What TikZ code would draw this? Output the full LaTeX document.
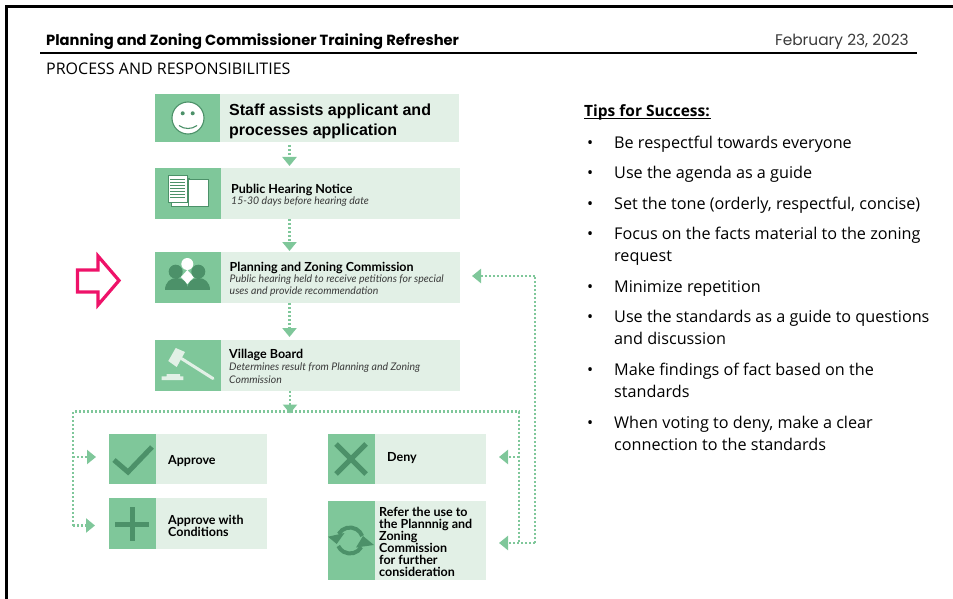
\documentclass[tikz,border=0pt]{standalone}
\usepackage{fontspec}
\setmainfont{Open Sans}
\newfontfamily\headfont{Poppins}
\newfontfamily\flowfont{Lato}
\newfontfamily\stafffont{Liberation Sans}
\usetikzlibrary{arrows.meta}

\definecolor{paleGreen}{HTML}{E2F0E6}
\definecolor{midGreen}{HTML}{7FC79A}
\definecolor{darkGreen}{HTML}{4C9169}
\definecolor{inkGrey}{HTML}{3A3A3A}
\definecolor{hotPink}{HTML}{EE1269}

\tikzset{
    panel/.style={fill=paleGreen,anchor=north west,inner sep=0pt,outer sep=0pt},
    iconbox/.style={fill=midGreen,anchor=north west,inner sep=0pt,outer sep=0pt},
    flowtitle/.style={anchor=west,inner sep=0pt,align=left,text=black,font=\flowfont\bfseries\fontsize{12.5}{12}\selectfont},
    flowsub/.style={anchor=west,inner sep=0pt,align=left,text=inkGrey,font=\flowfont\itshape\fontsize{10.5}{12.5}\selectfont},
    dotline/.style={midGreen,line width=2.2pt,dash pattern=on 2pt off 2pt},
    flowarrow/.style={dotline,-{Triangle[width=14pt,length=9pt,fill=midGreen]}},
    tiptext/.style={anchor=north west,inner sep=0pt,align=left,font=\fontsize{16.2}{22}\selectfont},
}

\begin{document}
\begin{tikzpicture}[x=1pt,y=-1pt]
    \useasboundingbox (0,0) rectangle (953,599);

    % Slide frame and header
    \draw[line width=3pt] (6,599) -- (6,7) -- (953,7);
    \node[anchor=base west,inner sep=0pt,font=\headfont\bfseries\fontsize{14.7}{16}\selectfont] (title) at (46,46) {Planning and Zoning Commissioner Training Refresher};
    \node[anchor=base east,inner sep=0pt,font=\headfont\fontsize{15.4}{16}\selectfont,text=inkGrey] (date) at (909,46) {February 23, 2023};
    \draw[line width=2pt] (40,53.5) -- (917,53.5);
    \node[anchor=base west,inner sep=0pt,font=\fontsize{16}{18}\selectfont] (section) at (46,74.5) {PROCESS AND RESPONSIBILITIES};

    % Flow panels, the pale part first and the icon square over it
    \node[panel,minimum width=304pt,minimum height=48pt] (staff) at (155,94) {};
    \node[iconbox,minimum width=65pt,minimum height=48pt] (staffIcon) at (155,94) {};
    \node[panel,minimum width=305pt,minimum height=51pt] (notice) at (155,168) {};
    \node[iconbox,minimum width=66pt,minimum height=51pt] (noticeIcon) at (155,168) {};
    \node[panel,minimum width=305pt,minimum height=51pt] (commission) at (155,252) {};
    \node[iconbox,minimum width=66pt,minimum height=51pt] (commissionIcon) at (155,252) {};
    \node[panel,minimum width=305pt,minimum height=51pt] (board) at (155,340) {};
    \node[iconbox,minimum width=66pt,minimum height=51pt] (boardIcon) at (155,340) {};
    \node[panel,minimum width=158pt,minimum height=50pt] (approve) at (109,434) {};
    \node[iconbox,minimum width=47pt,minimum height=50pt] (approveIcon) at (109,434) {};
    \node[panel,minimum width=158pt,minimum height=51pt] (conditions) at (109,498) {};
    \node[iconbox,minimum width=47pt,minimum height=51pt] (conditionsIcon) at (109,498) {};
    \node[panel,minimum width=158pt,minimum height=50pt] (deny) at (328,434) {};
    \node[iconbox,minimum width=47pt,minimum height=50pt] (denyIcon) at (328,434) {};
    \node[panel,minimum width=158pt,minimum height=79pt] (refer) at (328,501) {};
    \node[iconbox,minimum width=47pt,minimum height=79pt] (referIcon) at (328,501) {};

    % Panel texts
    \node[anchor=west,inner sep=0pt,align=left,font=\stafffont\bfseries\fontsize{16}{20}\selectfont] (staffText) at (229,121) {Staff assists applicant and\\processes application};
    \node[flowtitle] (noticeTitle) at (231,190) {Public Hearing Notice};
    \node[flowsub] (noticeSub) at (231,201.5) {15-30 days before hearing date};
    \node[flowtitle] (commissionTitle) at (229.5,267.5) {Planning and Zoning Commission};
    \node[flowsub] (commissionSub) at (229.5,285.5) {Public hearing held to receive petitions for special\\uses and provide recommendation};
    \node[flowtitle] (boardTitle) at (229,355) {Village Board};
    \node[flowsub] (boardSub) at (229,373) {Determines result from Planning and Zoning\\Commission};
    \node[flowtitle] (approveText) at (168,461) {Approve};
    \node[flowtitle] (conditionsText) at (168,525.5) {Approve with\\Conditions};
    \node[flowtitle] (denyText) at (387,458) {Deny};
    \node[flowtitle] (referText) at (379,542) {Refer the use to\\the Plannnig and\\Zoning\\Commission\\for further\\consideration};

    % Smiley
    \draw[darkGreen,fill=white,line width=1.1pt] (188,118) circle (16);
    \fill[darkGreen] (182.7,113.3) circle (2) (192.7,113.3) circle (2);
    \draw[darkGreen,line width=1.1pt] (179,125.5) .. controls (184,129.5) and (192,129.5) .. (197,125.5);

    % Sheets of paper
    \draw[darkGreen,fill=white,line width=.6pt] (171,178) rectangle (189,206);
    \draw[darkGreen,fill=white,line width=.6pt] (168,175) rectangle (187,202);
    \draw[darkGreen,fill=white,line width=.6pt] (188,179) rectangle (208,206);
    \foreach \yy in {179,182,185,188,191,194,197}
        \draw[darkGreen,line width=.5pt] (170,\yy) -- (185,\yy);

    % Three people
    \fill[white] (187.3,264) circle (6);
    \fill[white] (187.3,270) -- (194,277) -- (187.3,284) -- (181,277) -- cycle;
    \fill[darkGreen] (175.7,271.7) circle (7) (198.3,271.7) circle (7);
    \fill[darkGreen] (165,290) .. controls (165,274) and (188,274) .. (188,290) -- cycle;
    \fill[darkGreen] (187,290) .. controls (187,274) and (210,274) .. (210,290) -- cycle;

    % Gavel
    \fill[paleGreen] (175.7,348) -- (185,352) -- (176.7,367) -- (168.3,361) -- cycle;
    \draw[paleGreen,line width=3pt,line cap=round] (181.7,358.7) -- (213,378.5);
    \fill[paleGreen] (166.7,374) rectangle (180,376.3) (161.7,376.3) rectangle (183.3,380);

    % Check, plus and cross
    \draw[darkGreen,line width=5pt] (114,460) -- (128,472) -- (152,447);
    \draw[darkGreen,line width=5pt] (115,524) -- (149,524) (132,507) -- (132,541);
    \draw[darkGreen,line width=5pt] (336,444) -- (366,474) (366,444) -- (336,474);

    % Refresh arrows
    \draw[darkGreen,line width=4pt] (338.7,534) arc (-150:-20:13);
    \draw[darkGreen,line width=4pt] (361.3,547) arc (30:155:13);
    \fill[darkGreen] (328,536.7) -- (344.5,533) -- (336.7,544) -- cycle;
    \fill[darkGreen] (374,545) -- (356,547.5) -- (363,536) -- cycle;

    % Flow arrows
    \coordinate (spine) at (289.5,0);
    \coordinate (busMid) at (290,411.5);
    \coordinate (busLeft) at (73,411.5);
    \coordinate (busRight) at (519,411.5);
    \coordinate (leftEnd) at (73,525.5);
    \coordinate (rightEnd) at (519,543);
    \coordinate (loopEnd) at (535,543);
    \coordinate (loopTop) at (535,276);
    \draw[flowarrow] ([yshift=-3pt]staff.south -| spine) -- ([yshift=2pt]notice.north -| spine);
    \draw[flowarrow] (notice.south -| spine) -- ([yshift=1pt]commission.north -| spine);
    \draw[flowarrow] (commission.south -| spine) -- ([yshift=3pt]board.north -| spine);
    \draw[flowarrow] (board.south -| busMid) -- ([yshift=-2pt]busMid);
    \draw[dotline] (leftEnd) -- (busLeft) -- (busRight) -- (rightEnd);
    \draw[flowarrow] (leftEnd) -- ([xshift=-14pt]conditions.west |- leftEnd);
    \draw[flowarrow] (busLeft |- 0,457) -- (96,457);
    \draw[flowarrow] (busRight |- 0,457) -- (499,457);
    \draw[flowarrow] (loopEnd) -- ([xshift=13pt]refer.east |- loopEnd);
    \draw[dotline] (loopEnd) -- (loopTop);
    \draw[flowarrow] (loopTop) -- ([xshift=12pt]commission.east |- loopTop);

    % Pink marker arrow
    \draw[hotPink,line width=3.2pt,miter limit=10] (77.5,270) -- (98,270) -- (98,256) -- (119,280.5) -- (98,305) -- (98,292) -- (77.5,292) -- cycle;

    % Tips list
    \node[anchor=north west,inner sep=0pt,font=\bfseries\fontsize{15.5}{22}\selectfont] (tipsHead) at (584,104) {Tips for Success:};
    \draw[line width=.9pt] (tipsHead.south west) ++(0,-1.5) -- ++(127,0);
    \foreach \ty/\tip in {
        144/{Be respectful towards everyone},
        174/{Use the agenda as a guide},
        205/{Set the tone (orderly, respectful, concise)},
        235/{Focus on the facts material to the zoning\\request},
        288/{Minimize repetition},
        318/{Use the standards as a guide to questions\\and discussion},
        371/{Make findings of fact based on the\\standards},
        424/{When voting to deny, make a clear\\connection to the standards}}
    {
        \node[tiptext] at (587,\ty-11) {\strut•};
        \node[tiptext] at (614,\ty-11) {\strut\tip};
    }
\end{tikzpicture}
\end{document}
